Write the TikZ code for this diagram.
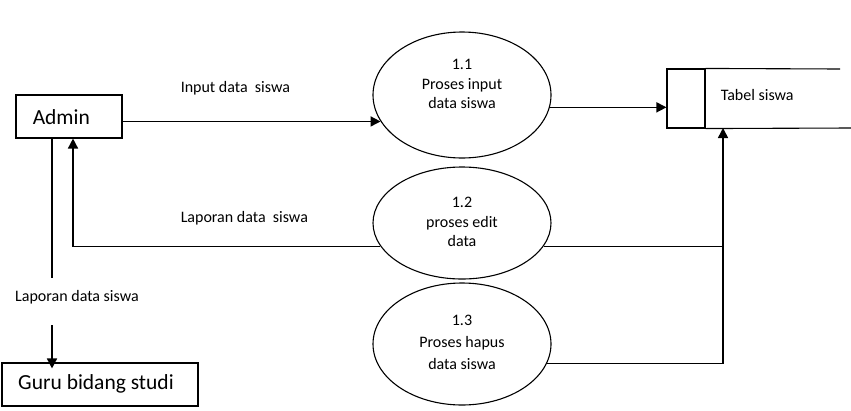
\documentclass[tikz,border=0pt]{standalone}
\usepackage{fontspec}
\setmainfont{Carlito}
\usetikzlibrary{shapes.geometric,arrows.meta}
\begin{document}
\begin{tikzpicture}[x=1pt,y=-1pt,
  line width=1.5pt,
  arr/.style={-{Triangle[length=10pt,width=10pt]}},
  proc/.style={draw,ellipse,line width=1.1pt,inner sep=0pt},
  small/.style={font=\fontsize{16}{19.5}\selectfont,align=center,inner sep=0pt},
  big/.style={font=\fontsize{21.5}{24}\selectfont,inner sep=0pt},
  box/.style={draw,rectangle,line width=1.1pt,inner sep=0pt}]
\useasboundingbox (0,0) rectangle (851,410);
% external entities
\node[box,minimum width=106pt,minimum height=43pt] (admin) at (69,116.5) {};
\node[big,anchor=west] (admintxt) at (32,117) {Admin};
\node[box,minimum width=196pt,minimum height=43pt] (guru) at (100,384.5) {};
\node[big] (gurutxt) at (96,384) {Guru bidang studi};
% processes
\node[proc,minimum width=178pt,minimum height=126pt] (p1) at (462,95) {};
\node[small] (p1txt) at (462,84) {1.1\\Proses input\\data siswa};
\node[proc,minimum width=178pt,minimum height=112pt] (p2) at (462,223) {};
\node[small] (p2txt) at (462,222) {1.2\\proses edit\\data};
\node[proc,minimum width=178pt,minimum height=122pt] (p3) at (462,344) {};
\node[small,font=\fontsize{16}{22}\selectfont] (p3txt) at (462,342) {1.3\\Proses hapus\\data siswa};
% data store
\node[box,minimum width=38pt,minimum height=59pt] (store) at (686,98.5) {};
\draw[line width=1.1pt] (store.north east) -- (840,69);
\draw[line width=1.1pt] (store.south east) -- (851,128);
\node[small,anchor=west] (storetxt) at (720,95) {Tabel siswa};
\coordinate (storein) at (723,128);
% labels
\node[small,anchor=west] (l1) at (180,88) {Input data\ \ siswa};
\node[small,anchor=west] (l2) at (180,218) {Laporan data\ \ siswa};
\node[small] (l3) at (77,297) {Laporan data siswa};
% flows
\draw[arr] (p1.198 -| admin.east) -- (p1.198);
\draw[arr] (p1.-8) -- (store.west |- p1.-8);
\draw[arr] (p2.196) -| ([xshift=4pt]admin.south);
\draw (p2.-16) -- (p2.-16 -| storein);
\draw[arr] (p3.-13) -| (storein);
\draw ([xshift=-17pt]admin.south) -- ([xshift=-17pt]admin.south |- 0,278);
\draw[arr] ([xshift=-48pt]guru.north |- 0,325) -- ([xshift=-48pt,yshift=-6pt]guru.north);
\end{tikzpicture}
\end{document}
